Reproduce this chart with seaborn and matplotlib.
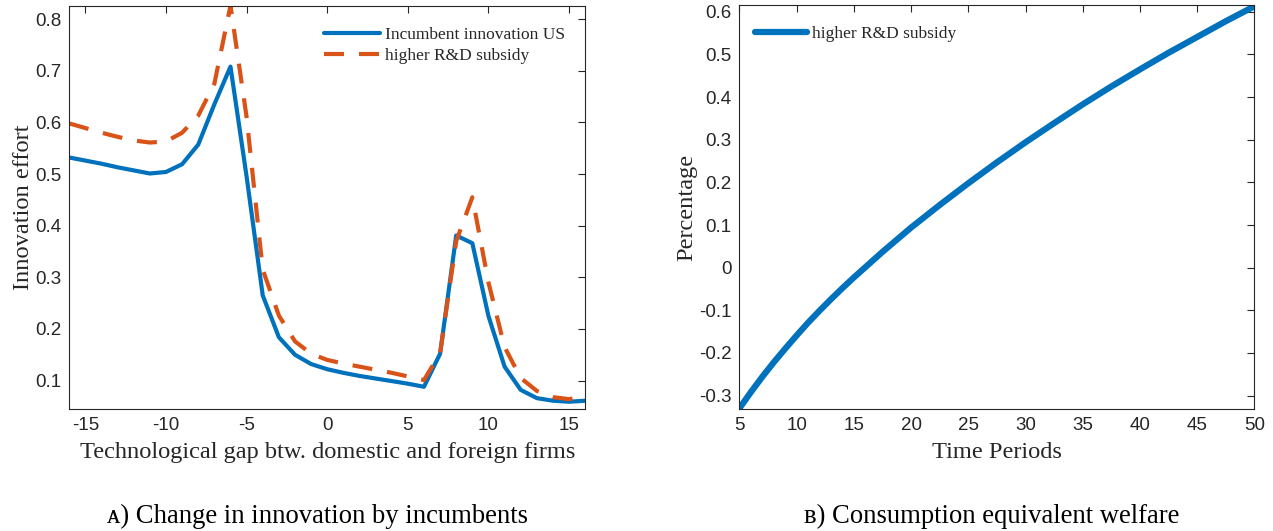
import matplotlib
matplotlib.use("Agg")
import matplotlib.pyplot as plt
import seaborn as sns
import pandas as pd

# ---------------- data ----------------
gap = list(range(-16, 17))
incumbent_us = [0.532, 0.526, 0.520, 0.513, 0.507, 0.501, 0.504, 0.519, 0.557, 0.635,
                0.708, 0.495, 0.265, 0.184, 0.150, 0.132, 0.122, 0.115, 0.109, 0.104,
                0.099, 0.094, 0.088, 0.152, 0.381, 0.366, 0.225, 0.127, 0.082, 0.066,
                0.061, 0.059, 0.061]
higher_subsidy = [0.598, 0.589, 0.580, 0.572, 0.565, 0.561, 0.563, 0.580, 0.613, 0.675,
                  0.826, 0.610, 0.315, 0.226, 0.176, 0.152, 0.140, 0.133, 0.127, 0.121,
                  0.115, 0.108, 0.101, 0.153, 0.370, 0.455, 0.290, 0.165, 0.105, 0.080,
                  0.068, 0.064, 0.070]

periods = [5, 6, 7, 8, 9, 10, 11, 12, 13, 14, 15, 17.5, 20, 22.5, 25, 27.5, 30, 32.5,
           35, 37.5, 40, 42.5, 45, 47.5, 50]
welfare = [-0.330, -0.292, -0.256, -0.222, -0.190, -0.159, -0.129, -0.101, -0.074,
           -0.048, -0.023, 0.037, 0.094, 0.147, 0.198, 0.247, 0.294, 0.339, 0.383,
           0.425, 0.465, 0.504, 0.541, 0.578, 0.613]

left_xticks = [-15, -10, -5, 0, 5, 10, 15]
left_yticks = [0.1, 0.2, 0.3, 0.4, 0.5, 0.6, 0.7, 0.8]
right_xticks = [5, 10, 15, 20, 25, 30, 35, 40, 45, 50]
right_yticks = [-0.3, -0.2, -0.1, 0, 0.1, 0.2, 0.3, 0.4, 0.5, 0.6]

BLUE = "#0072BD"
ORANGE = "#D95319"
DARK = "#262626"

sns.set_theme(style="white")
plt.rcParams["font.family"] = ["Liberation Sans", "DejaVu Sans"]
plt.rcParams["axes.edgecolor"] = DARK
plt.rcParams["axes.linewidth"] = 0.8

fig = plt.figure(figsize=(12.73, 5.31), dpi=100)
axL = fig.add_axes([0.0544, 0.2298, 0.4053, 0.7595])
axR = fig.add_axes([0.5808, 0.2292, 0.4046, 0.7614])

serif = ["Liberation Serif", "DejaVu Serif"]

df_left = pd.DataFrame({"gap": gap, "us": incumbent_us, "sub": higher_subsidy})
sns.lineplot(data=df_left, x="gap", y="us", ax=axL, color=BLUE, linewidth=3.0,
             label="Incumbent innovation US")
sns.lineplot(data=df_left, x="gap", y="sub", ax=axL, color=ORANGE, linewidth=3.0,
             linestyle="--", label="higher R&D subsidy")
axL.lines[1].set_dashes([4.8, 3.6])
axL.lines[1].set_dash_capstyle("butt")

df_right = pd.DataFrame({"t": periods, "w": welfare})
sns.lineplot(data=df_right, x="t", y="w", ax=axR, color=BLUE, linewidth=4.5,
             label="higher R&D subsidy")

axL.set_xlim(-16, 16)
axL.set_ylim(0.045, 0.826)
axL.set_xticks(left_xticks)
axL.set_xticklabels([str(v) for v in left_xticks])
axL.set_yticks(left_yticks)
axL.set_yticklabels([f"{v:.1f}" for v in left_yticks])

axR.set_xlim(5, 50)
axR.set_ylim(-0.332, 0.616)
axR.set_xticks(right_xticks)
axR.set_xticklabels([str(v) for v in right_xticks])
axR.set_yticks(right_yticks)
axR.set_yticklabels(["0" if v == 0 else f"{v:.1f}" for v in right_yticks])

for ax in (axL, axR):
    ax.tick_params(direction="in", length=5, width=0.8, top=True, right=True,
                   labelsize=13.5, colors=DARK, pad=5.5)
    for s in ax.spines.values():
        s.set_visible(True)
        s.set_color(DARK)

lab_kw = dict(family=serif, fontsize=17.6, color=DARK)
axL.set_xlabel("Technological gap btw. domestic and foreign firms", labelpad=6, **lab_kw)
axL.set_ylabel("Innovation effort", labelpad=1, **lab_kw)
axR.set_xlabel("Time Periods", labelpad=6, **lab_kw)
axR.set_ylabel("Percentage", labelpad=1, **lab_kw)

legL = axL.legend(loc="upper right", bbox_to_anchor=(0.985, 0.978), frameon=False,
                  prop={"family": serif, "size": 12.5}, handlelength=3.2,
                  handletextpad=0.3, labelspacing=0.3, borderaxespad=0.3)
legR = axR.legend(loc="upper left", bbox_to_anchor=(0.006, 0.978), frameon=False,
                  prop={"family": serif, "size": 12.5}, handlelength=3.0,
                  handletextpad=0.3, borderaxespad=0.3)
for t in legL.get_texts() + legR.get_texts():
    t.set_color(DARK)

fig.text(317.5 / 1273, 1 - 516 / 531, "ᴀ) Change in innovation by incumbents",
         family=serif, fontsize=19.2, ha="center", va="center", color="black")
fig.text(992 / 1273, 1 - 516 / 531, "ʙ) Consumption equivalent welfare",
         family=serif, fontsize=19.2, ha="center", va="center", color="black")

fig.savefig("out.png", dpi=100)
